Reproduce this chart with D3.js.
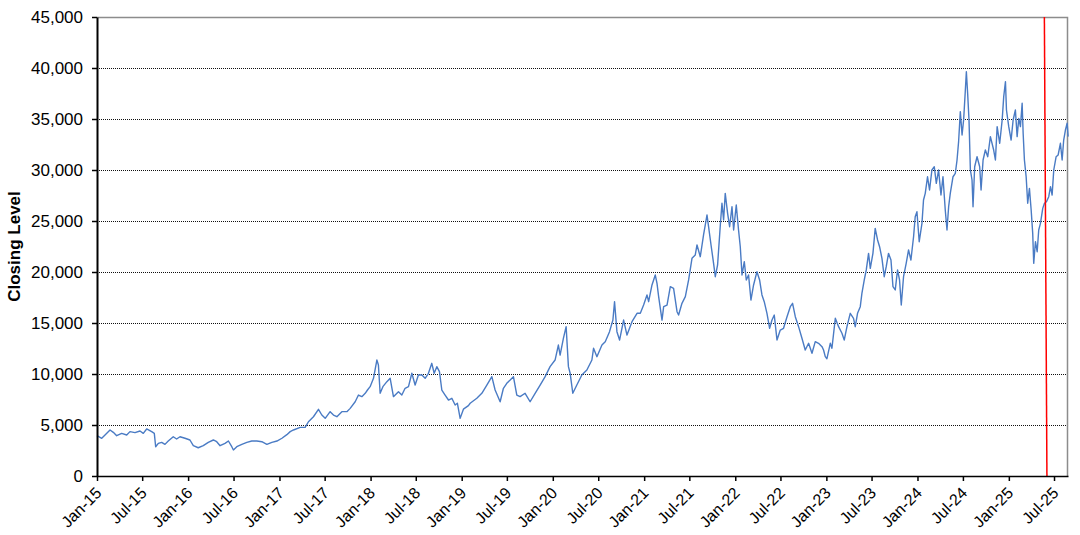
<!DOCTYPE html>
<html>
<head>
<meta charset="utf-8">
<script src="https://cdn.jsdelivr.net/npm/d3@7"></script>
<style>
  html, body { margin: 0; padding: 0; background: #fff; }
  #chart { width: 1080px; height: 535px; }
  text { font-family: "Liberation Sans", Arial, sans-serif; }
</style>
</head>
<body>
<div id="chart"></div>
<script>
// Data (decimal years, closing levels)
const years = [
  2015.000, 2015.052, 2015.088, 2015.143, 2015.179, 2015.216, 2015.271, 2015.326, 2015.362, 2015.417,
  2015.472, 2015.508, 2015.545, 2015.600, 2015.629, 2015.644, 2015.673, 2015.710, 2015.746, 2015.782,
  2015.837, 2015.874, 2015.911, 2015.966, 2016.020, 2016.057, 2016.111, 2016.166, 2016.221, 2016.276,
  2016.313, 2016.350, 2016.404, 2016.441, 2016.478, 2016.496, 2016.533, 2016.588, 2016.643, 2016.697,
  2016.752, 2016.807, 2016.862, 2016.917, 2016.972, 2017.027, 2017.081, 2017.118, 2017.154, 2017.227,
  2017.282, 2017.318, 2017.373, 2017.428, 2017.465, 2017.502, 2017.556, 2017.593, 2017.630, 2017.685,
  2017.740, 2017.776, 2017.831, 2017.867, 2017.904, 2017.941, 2017.966, 2017.995, 2018.032, 2018.069,
  2018.086, 2018.105, 2018.135, 2018.179, 2018.215, 2018.251, 2018.306, 2018.343, 2018.379, 2018.416,
  2018.453, 2018.489, 2018.525, 2018.563, 2018.599, 2018.635, 2018.672, 2018.698, 2018.727, 2018.756,
  2018.782, 2018.818, 2018.855, 2018.892, 2018.928, 2018.953, 2018.983, 2019.019, 2019.074, 2019.093,
  2019.166, 2019.221, 2019.276, 2019.331, 2019.367, 2019.422, 2019.458, 2019.495, 2019.532, 2019.568,
  2019.605, 2019.641, 2019.696, 2019.751, 2019.806, 2019.861, 2019.916, 2019.970, 2020.025, 2020.061,
  2020.080, 2020.116, 2020.146, 2020.171, 2020.190, 2020.219, 2020.263, 2020.318, 2020.373, 2020.428,
  2020.446, 2020.483, 2020.538, 2020.574, 2020.621, 2020.658, 2020.676, 2020.702, 2020.731, 2020.775,
  2020.812, 2020.867, 2020.922, 2020.958, 2020.994, 2021.031, 2021.049, 2021.086, 2021.122, 2021.141,
  2021.159, 2021.196, 2021.214, 2021.251, 2021.287, 2021.323, 2021.361, 2021.378, 2021.415, 2021.452,
  2021.488, 2021.525, 2021.561, 2021.580, 2021.616, 2021.652, 2021.690, 2021.707, 2021.734, 2021.762,
  2021.781, 2021.806, 2021.836, 2021.854, 2021.872, 2021.890, 2021.916, 2021.938, 2021.964, 2021.982,
  2022.011, 2022.036, 2022.055, 2022.074, 2022.099, 2022.121, 2022.146, 2022.172, 2022.201, 2022.238,
  2022.267, 2022.293, 2022.318, 2022.348, 2022.377, 2022.403, 2022.428, 2022.458, 2022.494, 2022.530,
  2022.568, 2022.604, 2022.629, 2022.659, 2022.695, 2022.732, 2022.768, 2022.805, 2022.842, 2022.878,
  2022.914, 2022.952, 2022.969, 2022.988, 2023.006, 2023.043, 2023.061, 2023.098, 2023.134, 2023.171,
  2023.196, 2023.226, 2023.262, 2023.298, 2023.317, 2023.342, 2023.372, 2023.390, 2023.416, 2023.438,
  2023.463, 2023.482, 2023.511, 2023.536, 2023.562, 2023.584, 2023.610, 2023.635, 2023.657, 2023.682,
  2023.709, 2023.731, 2023.756, 2023.781, 2023.803, 2023.822, 2023.847, 2023.876, 2023.902, 2023.928,
  2023.957, 2023.975, 2023.994, 2024.019, 2024.049, 2024.066, 2024.085, 2024.110, 2024.132, 2024.158,
  2024.184, 2024.206, 2024.231, 2024.257, 2024.279, 2024.304, 2024.323, 2024.341, 2024.359, 2024.389,
  2024.414, 2024.433, 2024.450, 2024.469, 2024.488, 2024.505, 2024.524, 2024.535, 2024.549, 2024.564,
  2024.579, 2024.597, 2024.608, 2024.626, 2024.652, 2024.681, 2024.696, 2024.718, 2024.743, 2024.769,
  2024.798, 2024.834, 2024.853, 2024.872, 2024.900, 2024.927, 2024.944, 2024.963, 2024.974, 2024.999,
  2025.025, 2025.047, 2025.072, 2025.091, 2025.109, 2025.127, 2025.146, 2025.157, 2025.171, 2025.190,
  2025.207, 2025.226, 2025.245, 2025.262, 2025.273, 2025.292, 2025.311, 2025.328, 2025.347, 2025.372,
  2025.391, 2025.413, 2025.438, 2025.457, 2025.475, 2025.493, 2025.519, 2025.541, 2025.566, 2025.585,
  2025.602, 2025.621, 2025.640, 2025.651
];

const closes = [
  3950, 3700, 4020, 4510, 4280, 3950, 4180, 4020, 4350, 4250,
  4410, 4180, 4610, 4350, 4180, 2870, 3200, 3300, 3100, 3430,
  3850, 3630, 3850, 3700, 3530, 2970, 2770, 2970, 3300, 3530,
  3360, 2970, 3200, 3430, 2870, 2550, 2870, 3100, 3300, 3430,
  3430, 3360, 3100, 3300, 3430, 3700, 4050, 4350, 4510, 4770,
  4770, 5320, 5810, 6540, 5980, 5650, 6310, 5980, 5810, 6310,
  6310, 6630, 7280, 7940, 7780, 8110, 8430, 8760, 9580, 11370,
  10880, 8110, 8760, 9250, 9580, 7780, 8270, 7940, 8600, 8760,
  10070, 8920, 9900, 9900, 9580, 10070, 11050, 10070, 10720, 10230,
  8430, 7940, 7450, 7620, 6960, 7130, 5650, 6550, 6900, 7130,
  7620, 8110, 8920, 9740, 8430, 7280, 8600, 9090, 9410, 9740,
  7940, 7780, 8110, 7280, 8110, 8920, 9740, 10720, 11370, 12840,
  11860, 13500, 14640, 10720, 10070, 8110, 8920, 9900, 10390, 11370,
  12520, 11700, 12840, 13170, 14150, 15290, 17090, 14150, 13330, 15290,
  13820, 15130, 15950, 15950, 16760, 17750, 17090, 18730, 19710, 18890,
  17580, 15290, 16600, 16760, 18560, 18400, 16110, 15780, 16930, 17580,
  19220, 21340, 21670, 22650, 21500, 23630, 25590, 24440, 22650, 20850,
  19540, 20690, 24610, 26740, 25100, 27710, 25750, 24440, 26400, 24120,
  26570, 24120, 22480, 19710, 21010, 19220, 19710, 17250, 18730, 20030,
  19220, 17750, 17090, 15950, 14480, 15290, 15780, 13330, 14310, 14480,
  15620, 16600, 16930, 15620, 14640, 13500, 12350, 13010, 12030, 13170,
  13010, 12680, 12350, 11700, 11500, 13010, 12520, 15460, 14640, 13990,
  13330, 14640, 15950, 15460, 14640, 15950, 16600, 17910, 19220, 20200,
  21830, 20360, 21830, 24280, 23140, 22480, 21340, 19540, 20520, 21830,
  21180, 18560, 18240, 20200, 19220, 16760, 19540, 20850, 22160, 21180,
  23460, 25420, 25910, 22970, 24770, 27060, 27710, 29340, 28040, 30000,
  30320, 28690, 30000, 27550, 29340, 26080, 24120, 26400, 27710, 29340,
  29670, 30980, 32770, 35720, 33430, 34900, 37840, 39640, 37520, 34900,
  30000, 29020, 26400, 30320, 31300, 30320, 28040, 30980, 31960, 31300,
  33270, 31960, 30980, 34250, 32620, 34900, 37190, 38660, 35880, 34250,
  32940, 34900, 35880, 33270, 35060, 34250, 36540, 33600, 30980, 29340,
  26740, 28200, 26080, 23790, 20850, 22970, 21990, 24120, 24770, 26240,
  26740, 26890, 27380, 28360, 27550, 30000, 31300, 31470, 32620, 30980,
  32940, 33920, 34580, 33270
];

const yTicks = [0, 5000, 10000, 15000, 20000, 25000, 30000, 35000, 40000, 45000];
const markerYears = [2025.390, 2025.418]; // red vertical marker: top, bottom
const yLabel = "Closing Level";

function toDate(t) {
  const y = Math.floor(t);
  const start = new Date(y, 0, 1);
  const end = new Date(y + 1, 0, 1);
  return new Date(+start + (t - y) * (end - start));
}

const dataset = years.map((t, i) => ({ date: toDate(t), close: closes[i] }));

const dimensions = {
  width: 1080,
  height: 535,
  margin: { top: 17, right: 12, bottom: 59, left: 97 },
};
dimensions.ctrWidth = dimensions.width - dimensions.margin.left - dimensions.margin.right;
dimensions.ctrHeight = dimensions.height - dimensions.margin.top - dimensions.margin.bottom;

const svg = d3.select("#chart")
  .append("svg")
  .attr("width", dimensions.width)
  .attr("height", dimensions.height);

const ctr = svg.append("g")
  .attr("transform", `translate(${dimensions.margin.left}, ${dimensions.margin.top})`);

// Scales
const xScale = d3.scaleTime()
  .domain([new Date(2015, 0, 1), new Date(2025, 7, 26)])
  .range([0, dimensions.ctrWidth]);

const yScale = d3.scaleLinear()
  .domain([0, 45000])
  .range([dimensions.ctrHeight, 0]);

// Gridlines (dotted)
ctr.append("g")
  .selectAll("line")
  .data(yTicks.filter((d) => d > 0 && d < 45000))
  .join("line")
  .attr("x1", 0)
  .attr("x2", dimensions.ctrWidth)
  .attr("y1", (d) => Math.round(yScale(d)) + 0.5)
  .attr("y2", (d) => Math.round(yScale(d)) + 0.5)
  .attr("stroke", "#111")
  .attr("stroke-width", 1)
  .attr("stroke-dasharray", "1,1");

// Plot border (top and right)
ctr.append("path")
  .attr("d", `M0,0.5 H${dimensions.ctrWidth - 0.5} V${dimensions.ctrHeight}`)
  .attr("fill", "none")
  .attr("stroke", "#8c8c8c")
  .attr("stroke-width", 1.5);

// Line
const line = d3.line()
  .x((d) => xScale(d.date))
  .y((d) => yScale(d.close));

ctr.append("path")
  .datum(dataset)
  .attr("d", line)
  .attr("fill", "none")
  .attr("stroke", "#4a7bc4")
  .attr("stroke-width", 1.4)
  .attr("stroke-linejoin", "round");

// Red marker line
ctr.append("line")
  .attr("x1", xScale(toDate(markerYears[0])))
  .attr("y1", 0)
  .attr("x2", xScale(toDate(markerYears[1])))
  .attr("y2", dimensions.ctrHeight)
  .attr("stroke", "#ff0000")
  .attr("stroke-width", 1.5);

// Axes
const xAxis = d3.axisBottom(xScale)
  .ticks(d3.timeMonth.every(6))
  .tickFormat(d3.timeFormat("%b-%y"))
  .tickSize(5)
  .tickSizeOuter(0);

const xAxisGroup = ctr.append("g")
  .attr("transform", `translate(0, ${dimensions.ctrHeight})`)
  .call(xAxis);

xAxisGroup.select(".domain").attr("stroke", "#000").attr("stroke-width", 1.5);
xAxisGroup.selectAll(".tick line").attr("stroke", "#000").attr("stroke-width", 1.5);
xAxisGroup.selectAll(".tick text")
  .style("font-size", "16px")
  .attr("fill", "#000")
  .attr("text-anchor", "end")
  .attr("y", 0)
  .attr("dy", 0)
  .attr("transform", "translate(5, 18) rotate(-45)");

const yAxis = d3.axisLeft(yScale)
  .tickValues(yTicks)
  .tickFormat(d3.format(","))
  .tickSize(5)
  .tickSizeOuter(0)
  .tickPadding(9);

const yAxisGroup = ctr.append("g").call(yAxis);
yAxisGroup.select(".domain").attr("stroke", "#000").attr("stroke-width", 2);
yAxisGroup.selectAll(".tick line").attr("stroke", "#000").attr("stroke-width", 1.5);
yAxisGroup.selectAll(".tick text")
  .style("font-size", "17px")
  .attr("fill", "#000");

// Y label
svg.append("text")
  .attr("transform", `translate(20, ${dimensions.margin.top + dimensions.ctrHeight / 2}) rotate(-90)`)
  .attr("text-anchor", "middle")
  .style("font-size", "17px")
  .style("font-weight", "bold")
  .text(yLabel);
</script>
</body>
</html>
